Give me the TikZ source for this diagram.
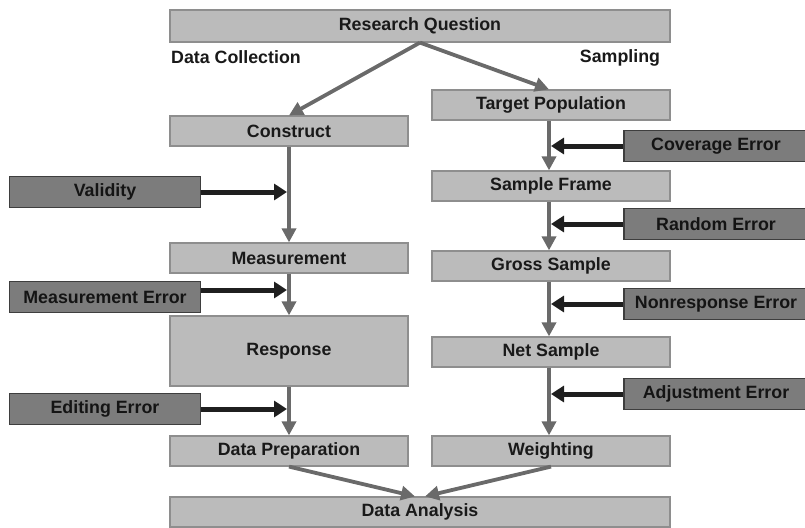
\documentclass[tikz,border=0pt]{standalone}
\usepackage{fontspec}
\setmainfont{Liberation Sans}
\usetikzlibrary{arrows.meta}
\definecolor{lightbox}{HTML}{BBBBBB}
\definecolor{lightedge}{HTML}{8E8E8E}
\definecolor{darkbox}{HTML}{7C7C7C}
\definecolor{darkedge}{HTML}{3E3E3E}
\definecolor{flowgray}{HTML}{6A6A6A}
\tikzset{
  lbox/.style={draw=lightedge, fill=lightbox, line width=1.2pt, inner sep=0pt, font=\fontsize{17.8}{20}\selectfont\bfseries, text=black!90},
  dbox/.style={draw=darkedge, fill=darkbox, line width=1.2pt, inner sep=0pt, font=\fontsize{17.8}{20}\selectfont\bfseries, text=black!92},
  plain/.style={inner sep=0pt, font=\fontsize{17.8}{20}\selectfont\bfseries, text=black!90},
  flow/.style={draw=flowgray, line width=3.8pt, -{Triangle[width=14pt,length=14pt]}},
  errarrow/.style={draw=black!88, line width=5pt, -{Triangle[width=16pt,length=13pt]}},
}
\begin{document}
\begin{tikzpicture}[x=1pt,y=-1pt]
\useasboundingbox (0,0) rectangle (805,527);
% left column
\node[lbox, minimum width=500pt, minimum height=32pt] (rq) at (420,26) {Research Question};
\node[plain] (dc) at (236,57) {Data Collection};
\node[plain] (sa) at (620,58) {Sampling};
\node[lbox, minimum width=238pt, minimum height=30pt] (con) at (289,131) {Construct};
\node[lbox, minimum width=238pt, minimum height=30pt] (mea) at (289,258) {Measurement};
\node[lbox, minimum width=238pt, minimum height=70pt] (res) at (289,351) {Response};
\node[lbox, minimum width=238pt, minimum height=30pt] (dp) at (289,451) {Data Preparation};
% right column
\node[lbox, minimum width=238pt, minimum height=30pt] (tp) at (551,105) {Target Population};
\node[lbox, minimum width=238pt, minimum height=30pt] (sf) at (551,186) {Sample Frame};
\node[lbox, minimum width=238pt, minimum height=30pt] (gs) at (551,266) {Gross Sample};
\node[lbox, minimum width=238pt, minimum height=30pt] (ns) at (551,352) {Net Sample};
\node[lbox, minimum width=238pt, minimum height=30pt] (we) at (551,451) {Weighting};
\node[lbox, minimum width=500pt, minimum height=30pt] (da) at (420,512) {Data Analysis};
% error boxes
\node[dbox, minimum width=191pt, minimum height=31pt] (va) at (105,192) {Validity};
\node[dbox, minimum width=191pt, minimum height=31pt] (me) at (105,297) {Measurement Error};
\node[dbox, minimum width=191pt, minimum height=31pt] (ee) at (105,409) {Editing Error};
\node[dbox, minimum width=184pt, minimum height=31pt] (ce) at (716,146) {Coverage Error};
\node[dbox, minimum width=184pt, minimum height=31pt] (re) at (716,224) {Random Error};
\node[dbox, minimum width=184pt, minimum height=31pt] (ne) at (716,304) {Nonresponse Error};
\node[dbox, minimum width=184pt, minimum height=31pt] (ae) at (716,394) {Adjustment Error};
% coordinates on main flow lines
\coordinate (lv) at (287,192);
\coordinate (lm) at (287,290);
\coordinate (le) at (287,409);
\coordinate (rc) at (551,146);
\coordinate (rr) at (551,224);
\coordinate (rn) at (551,304);
\coordinate (ra) at (551,394);
% flows
\draw[flow] (rq.south) -- (con.north);
\draw[flow] (rq.south) -- ([xshift=-2pt]tp.north);
\draw[flow] (con.south) -- (mea.north);
\draw[flow] (mea.south) -- (res.north);
\draw[flow] (res.south) -- (dp.north);
\draw[flow] ([xshift=-2pt]tp.south) -- ([xshift=-2pt]sf.north);
\draw[flow] ([xshift=-2pt]sf.south) -- ([xshift=-2pt]gs.north);
\draw[flow] ([xshift=-2pt]gs.south) -- ([xshift=-2pt]ns.north);
\draw[flow] ([xshift=-2pt]ns.south) -- ([xshift=-2pt]we.north);
\draw[flow] (dp.south) -- ([xshift=-5pt]da.north);
\draw[flow] (we.south) -- ([xshift=5pt]da.north);
% error arrows
\draw[errarrow] (va.east) -- (lv);
\draw[errarrow] (me.east |- lm) -- (lm);
\draw[errarrow] (ee.east) -- (le);
\draw[errarrow] (ce.west) -- (rc);
\draw[errarrow] (re.west) -- (rr);
\draw[errarrow] (ne.west) -- (rn);
\draw[errarrow] (ae.west) -- (ra);
\end{tikzpicture}
\end{document}
